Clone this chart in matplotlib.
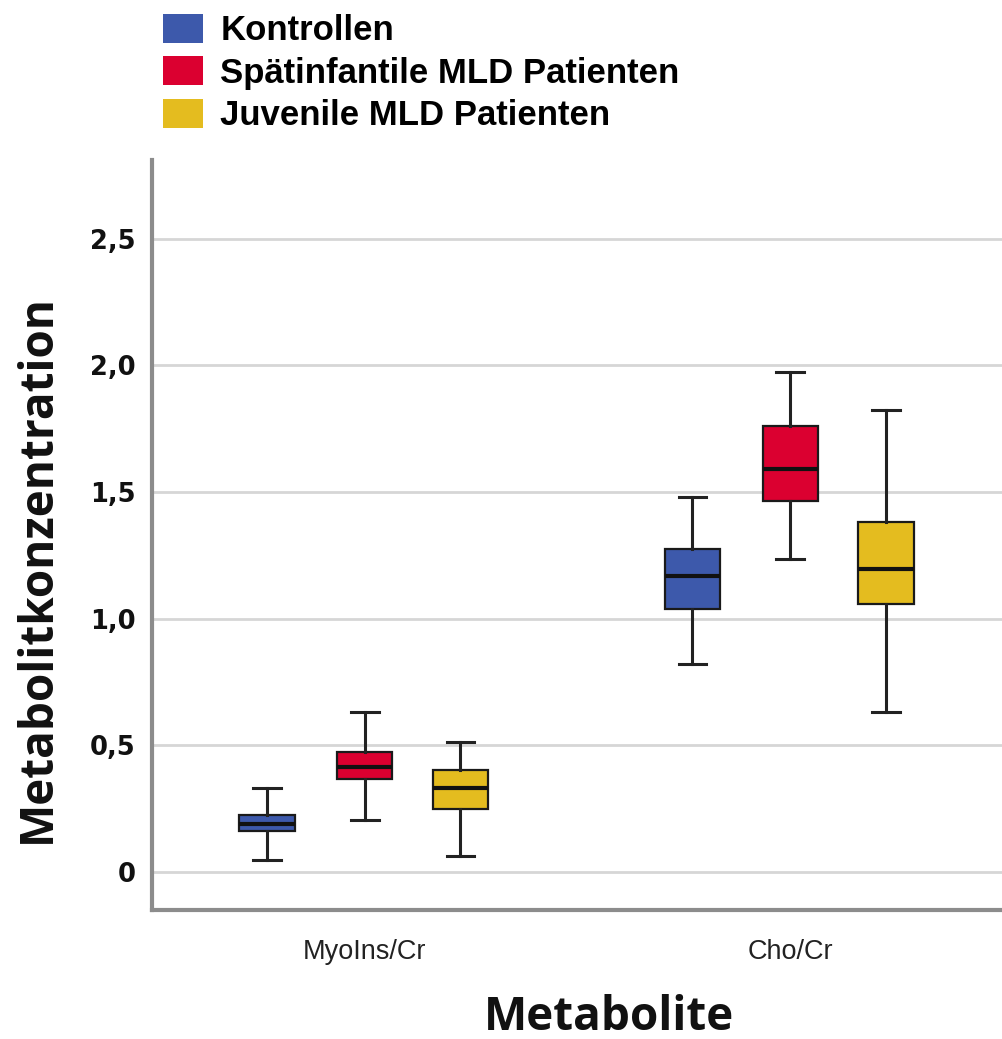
import numpy as np
import matplotlib
matplotlib.use('Agg')
import matplotlib.pyplot as plt
from matplotlib.patches import Patch

# Daten
metabolites = ['MyoIns/Cr', 'Cho/Cr']
groups = ['Kontrollen', 'Spätinfantile MLD Patienten', 'Juvenile MLD Patienten']
colors = ['#3d59ab', '#db0030', '#e4bc1f']

# je Gruppe: [whislo, q1, med, q3, whishi] für MyoIns/Cr und Cho/Cr
kontrollen = [[0.047, 0.160, 0.190, 0.225, 0.330],
              [0.822, 1.036, 1.167, 1.273, 1.481]]
spaetinfantil = [[0.205, 0.368, 0.416, 0.473, 0.630],
                 [1.237, 1.464, 1.592, 1.760, 1.975]]
juvenil = [[0.063, 0.249, 0.330, 0.403, 0.515],
           [0.630, 1.058, 1.194, 1.381, 1.822]]

y_ticks = [0, 0.5, 1.0, 1.5, 2.0, 2.5]
y_ticklabels = ['0', '0,5', '1,0', '1,5', '2,0', '2,5']

offsets = [-0.23, 0.0, 0.225]
box_width = 0.13

fig = plt.figure(figsize=(10.03, 10.39), dpi=100)
ax = fig.add_axes([152 / 1003, 1 - 910 / 1039, 851 / 1003, 750 / 1039])

for data, color, off in zip([kontrollen, spaetinfantil, juvenil], colors, offsets):
    stats = []
    for vals in data:
        lo, q1, med, q3, hi = vals
        stats.append({'whislo': lo, 'q1': q1, 'med': med, 'q3': q3,
                      'whishi': hi, 'fliers': []})
    pos = np.arange(len(metabolites)) + off
    ax.bxp(stats, positions=pos, widths=box_width, patch_artist=True,
           showfliers=False, manage_ticks=False,
           boxprops=dict(facecolor=color, edgecolor='#1a1a1a', linewidth=1.6),
           medianprops=dict(color='#111111', linewidth=3),
           whiskerprops=dict(color='#222222', linewidth=2.2),
           capprops=dict(color='#222222', linewidth=2.2),
           zorder=3)

ax.set_xlim(-0.5, 1.5)
ax.set_ylim(-0.15, 2.81)

ax.set_yticks(y_ticks)
ax.set_yticklabels(y_ticklabels, fontfamily='DejaVu Sans', fontweight='bold',
                   fontsize=18.5, color='#111111')
ax.set_xticks(np.arange(len(metabolites)))
ax.set_xticklabels(metabolites, fontfamily='Liberation Sans', fontsize=19.5,
                   color='#222222')
ax.tick_params(axis='y', length=0, pad=12)
ax.tick_params(axis='x', length=0, pad=21)

ax.yaxis.grid(True, color='#d6d6d6', linewidth=2)
ax.set_axisbelow(True)

for s in ['top', 'right']:
    ax.spines[s].set_visible(False)
for s in ['left', 'bottom']:
    ax.spines[s].set_color('#8c8c8c')
    ax.spines[s].set_linewidth(3)

ax.set_ylabel('Metabolitkonzentration', fontfamily='Open Sans', fontweight='bold',
              fontsize=33, color='#111111', va='center')
ax.yaxis.set_label_coords(-0.135, 0.455)
ax.set_xlabel('Metabolite', fontfamily='Open Sans', fontweight='bold',
              fontsize=33, color='#111111', va='center')
ax.xaxis.set_label_coords(0.537, -0.143)

handles = [Patch(facecolor=c, edgecolor='none') for c in colors]
fig.legend(handles, groups, loc='upper left', bbox_to_anchor=(163 / 1003, 1 - 14 / 1039),
           frameon=False, prop={'family': 'Liberation Sans', 'weight': 'bold', 'size': 25},
           handlelength=1.15, handleheight=0.9, handletextpad=0.5,
           labelspacing=0.26, borderaxespad=0, borderpad=0)

plt.savefig('out.png', dpi=100)
